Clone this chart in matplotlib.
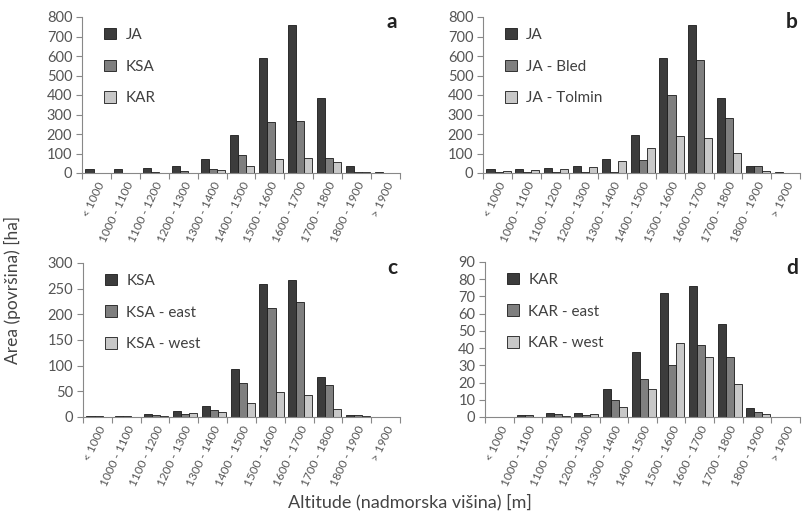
import matplotlib
matplotlib.use("Agg")
import matplotlib.pyplot as plt
import numpy as np

plt.rcParams['font.family'] = ['Lato', 'DejaVu Sans']

categories = ["< 1000", "1000 - 1100", "1100 - 1200", "1200 - 1300", "1300 - 1400",
              "1400 - 1500", "1500 - 1600", "1600 - 1700", "1700 - 1800", "1800 - 1900", "> 1900"]

ja = [18, 22, 25, 35, 70, 195, 590, 758, 383, 38, 3]
ksa = [2, 2, 5, 12, 22, 93, 260, 267, 77, 3, 0]
kar = [0, 1, 2.5, 2.5, 16, 38, 72, 76, 54, 5, 0]

ja_bled = [6, 6, 5, 4, 7, 65, 400, 578, 280, 35, 2]
ja_tolmin = [12, 15, 20, 32, 62, 130, 190, 180, 103, 8, 1]

ksa_east = [1, 1, 4, 5, 13, 67, 212, 225, 62, 3, 0]
ksa_west = [0.5, 0.5, 1.5, 8, 9, 28, 48, 42, 15, 1.5, 0]

kar_east = [0, 1, 1.5, 1, 10, 22, 30, 42, 35, 3, 0]
kar_west = [0, 0, 0.5, 1.5, 6, 16, 43, 35, 19, 1.5, 0]

panels = [
    ("a", [("JA", ja), ("KSA", ksa), ("KAR", kar)], 800, 100),
    ("b", [("JA", ja), ("JA - Bled", ja_bled), ("JA - Tolmin", ja_tolmin)], 800, 100),
    ("c", [("KSA", ksa), ("KSA - east", ksa_east), ("KSA - west", ksa_west)], 300, 50),
    ("d", [("KAR", kar), ("KAR - east", kar_east), ("KAR - west", kar_west)], 90, 10),
]

colors = ["#3c3c3c", "#7f7f7f", "#c8c8c8"]
W, H = 810, 518
fig = plt.figure(figsize=(W / 100, H / 100), dpi=100)

rects = {
    "a": (82, 17, 400, 173),
    "b": (483, 17, 800, 173),
    "c": (83, 263, 400, 417),
    "d": (485, 262, 800, 417),
}

grey = "#555555"
x = np.arange(len(categories))
bw = 0.28
for letter, series, ymax, ystep in panels:
    l, t, r, b = rects[letter]
    ax = fig.add_axes([l / W, 1 - b / H, (r - l) / W, (b - t) / H])
    for i, (name, vals) in enumerate(series):
        ax.bar(x + (i - 1) * bw + 0.04, vals, width=bw, color=colors[i],
               edgecolor="#1a1a1a", linewidth=0.6, label=name, zorder=2)
    ax.set_xlim(-0.5, len(categories) - 0.5)
    ax.set_ylim(0, ymax)
    ax.set_yticks(np.arange(0, ymax + 1, ystep))
    ax.set_xticks(np.arange(-0.5, len(categories)), minor=False)
    ax.set_xticklabels([])
    ax.set_xticks(x, minor=True)
    ax.set_xticklabels(categories, minor=True, rotation=65, ha="right",
                       rotation_mode="anchor", fontsize=8.5, color=grey)
    ax.tick_params(axis="x", which="minor", length=0, pad=5)
    ax.tick_params(axis="x", which="major", length=4, color="#888888", direction="out")
    ax.tick_params(axis="y", length=4, color="#888888", labelsize=10.5, labelcolor=grey, pad=3)
    for s in ["top", "right"]:
        ax.spines[s].set_visible(False)
    for s in ["left", "bottom"]:
        ax.spines[s].set_color("#888888")
        ax.spines[s].set_linewidth(0.8)
    leg = ax.legend(loc="upper left", bbox_to_anchor=(0.05, 0.97), frameon=False,
                    fontsize=11, handlelength=0.8, handleheight=0.8,
                    labelspacing=1.15, handletextpad=0.6, borderaxespad=0)
    for txt in leg.get_texts():
        txt.set_color("#404040")
    fig.text((r - 8) / W, 1 - 22 / H if letter in "ab" else 1 - 268 / H, letter,
             fontsize=15, fontweight="bold", ha="center", va="center", color="#222222")

fig.text(12 / W, 1 - 290 / H, "Area (površina) [ha]", rotation=90, ha="center", va="center",
         fontsize=12.5, color="#444444")
fig.text(410 / W, 1 - 502 / H, "Altitude (nadmorska višina) [m]", ha="center", va="center",
         fontsize=13, color="#444444")

fig.savefig("out.png", dpi=100)
